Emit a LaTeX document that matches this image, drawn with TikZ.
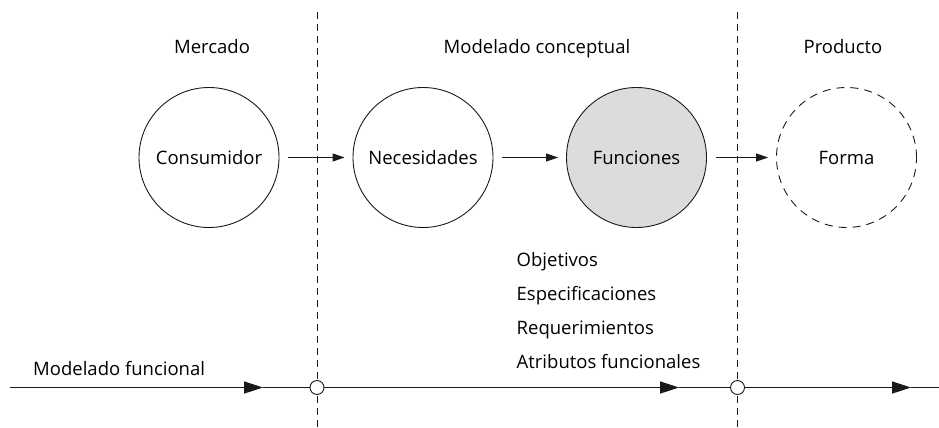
\documentclass[tikz,border=0pt]{standalone}
\usepackage{fontspec}
\setmainfont{Open Sans}
\usetikzlibrary{arrows.meta}
\definecolor{fillgray}{HTML}{DCDCDE}
\definecolor{ink}{HTML}{1A1A1A}
\tikzset{
  x=1pt,y=-1pt,
  txt/.style={font=\fontsize{18.5}{22}\selectfont, text=black, inner sep=0pt},
  bub/.style={circle, draw=ink, line width=0.9pt, minimum size=140pt, inner sep=0pt, font=\fontsize{18.5}{22}\selectfont, text=black},
  link/.style={draw=ink, line width=1.1pt, -{Triangle[length=12pt,width=8pt]}},
  divider/.style={draw=ink, line width=0.9pt, dash pattern=on 7pt off 5pt},
  mainline/.style={draw=ink, line width=1.6pt},
  mainarrow/.style={mainline, -{Triangle[length=19pt,width=12pt]}},
  junction/.style={circle, draw=ink, fill=white, line width=0.9pt, minimum size=14pt, inner sep=0pt},
}
\begin{document}
\begin{tikzpicture}
\useasboundingbox (0,0) rectangle (939,428);
% dividers
\coordinate (d1t) at (317,12);
\coordinate (d1b) at (317,428);
\coordinate (d2t) at (737.5,12);
\coordinate (d2b) at (737.5,428);
\draw[divider] (d1t) -- (d1b);
\draw[divider] (d2t) -- (d2b);
% titles
\node[txt, anchor=base] (tmercado) at (212,53.3) {Mercado};
\node[txt, anchor=base] (tconcept) at (537,53.3) {Modelado conceptual};
\node[txt, anchor=base] (tproducto) at (843,53.3) {Producto};
% circles
\node[bub] (cons) at (209,157.5) {Consumidor};
\node[bub] (nec) at (423,157.5) {Necesidades};
\node[bub, fill=fillgray] (fun) at (636.5,157.5) {Funciones};
\node[bub, dash pattern=on 8pt off 6pt] (forma) at (846.5,157.5) {Forma};
% arrows
\draw[link] ([xshift=9pt]cons.east) -- ([xshift=-8pt]nec.west);
\draw[link] ([xshift=9pt]nec.east) -- ([xshift=-8pt]fun.west);
\draw[link] ([xshift=9pt]fun.east) -- ([xshift=-8pt]forma.west);
% list
\node[txt, anchor=base west] (l1) at (516.5,266.3) {Objetivos};
\node[txt, anchor=base west] (l2) at (516.5,300.5) {Especificaciones};
\node[txt, anchor=base west] (l3) at (516.5,334.5) {Requerimientos};
\node[txt, anchor=base west] (l4) at (516.5,368.8) {Atributos funcionales};
% functional modelling line
\node[txt, anchor=base west] (mf) at (33,375.5) {Modelado funcional};
\coordinate (s) at (10,387.5);
\coordinate (a1) at (263,387.5);
\coordinate (a2) at (679,387.5);
\coordinate (a3) at (911,387.5);
\coordinate (e) at (939,387.5);
\coordinate (j1) at (317,387.5);
\coordinate (j2) at (737.5,387.5);
\draw[mainarrow] (s) -- (a1);
\draw[mainline] (a1) -- (j1);
\draw[mainarrow] (j1) -- (a2);
\draw[mainline] (a2) -- (j2);
\draw[mainarrow] (j2) -- (a3);
\draw[mainline] (a3) -- (e);
\node[junction] (o1) at (j1) {};
\node[junction] (o2) at (j2) {};
\end{tikzpicture}
\end{document}
